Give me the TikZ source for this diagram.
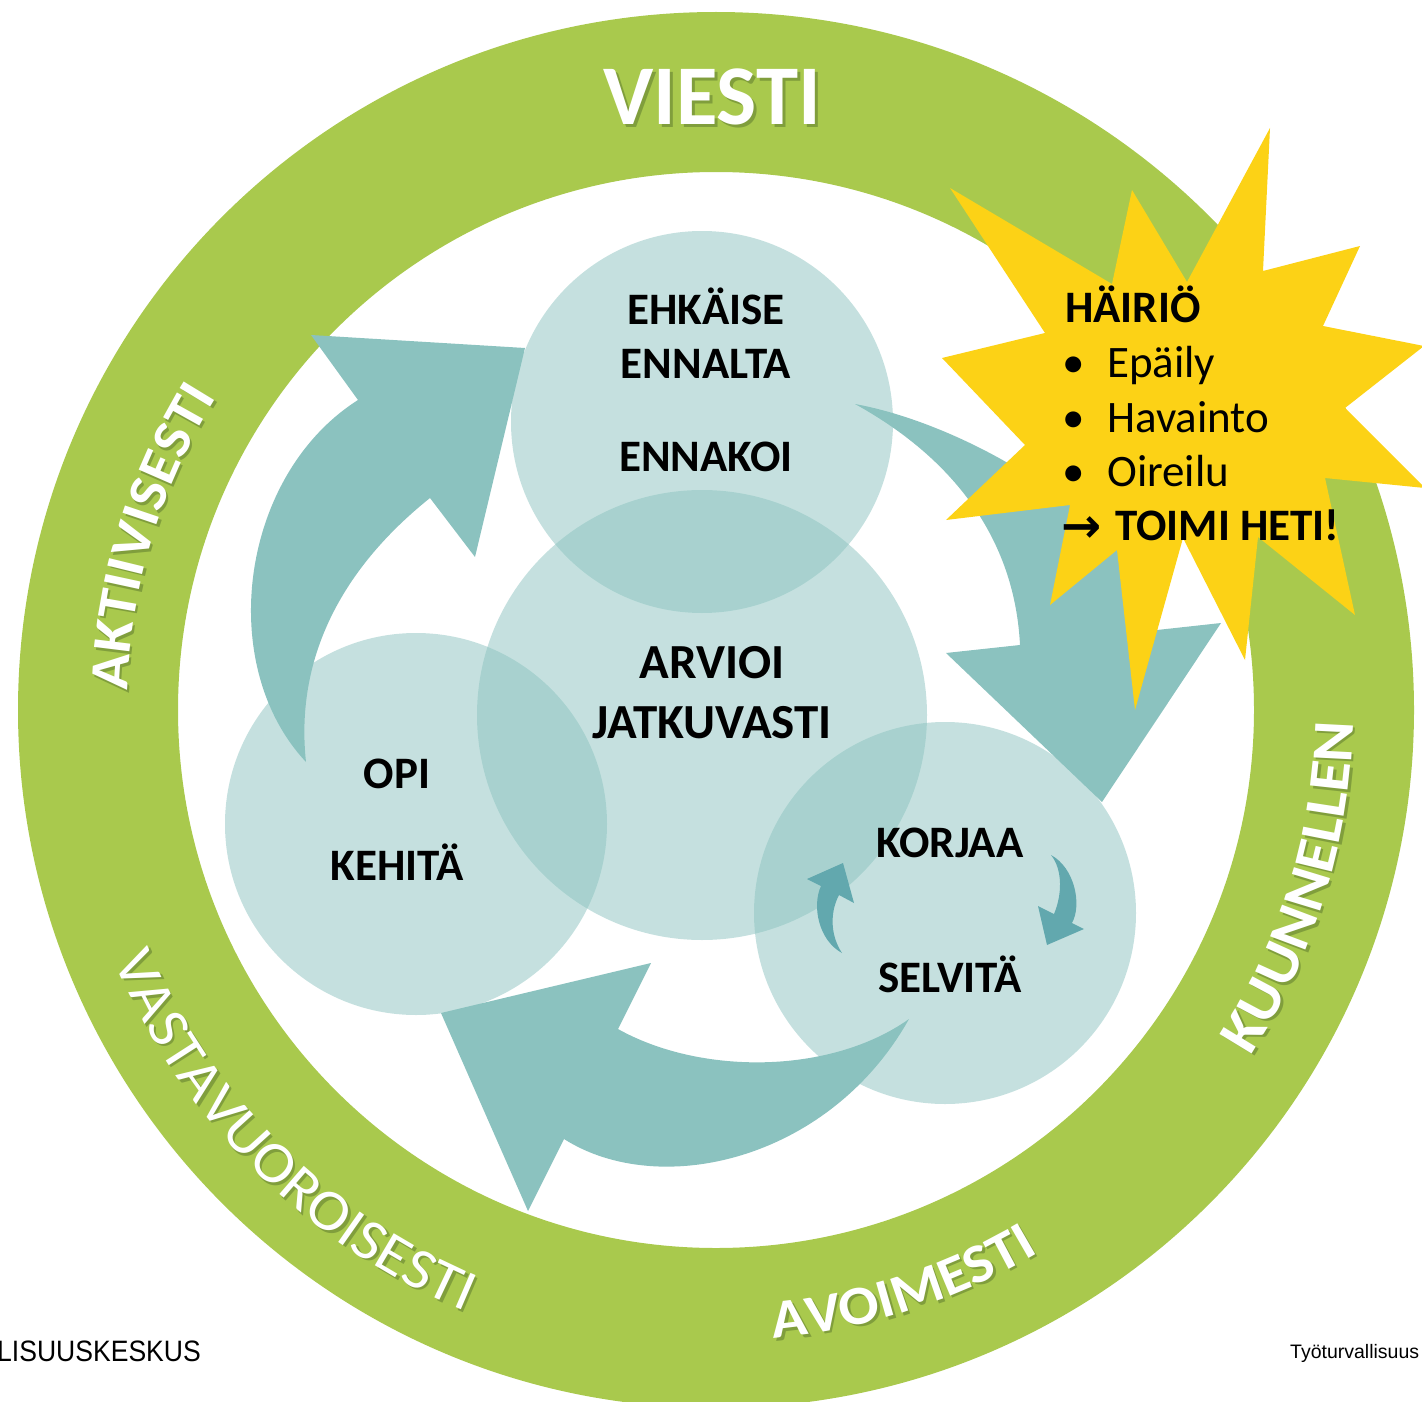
\documentclass[tikz,border=0pt]{standalone}
\usepackage{fontspec}
\setmainfont{Carlito}
\newfontfamily\ringfont[FakeStretch=1.08]{Carlito}
\newfontfamily\footfont{Liberation Sans}
\newfontfamily\footfontN[FakeStretch=0.9]{Liberation Sans}
\newfontfamily\symfont{DejaVu Sans}
\usetikzlibrary{decorations.text}
\definecolor{ringgreen}{RGB}{169,201,77}
\definecolor{ringshadow}{RGB}{128,158,60}
\definecolor{arrowteal}{RGB}{139,194,191}
\definecolor{smallteal}{RGB}{98,168,174}
\definecolor{staryellow}{RGB}{252,210,22}
\newcommand\ringB{\ringfont\bfseries\fontsize{55}{64}\selectfont}
\newcommand\ringBL{\ringfont\bfseries\fontsize{58}{66}\selectfont}
\newcommand\ringR{\ringfont\fontsize{58}{66}\selectfont}
\newcommand\RingText[5]{%
  \path[decorate,decoration={text along path,text align=center,text color=ringshadow,text={|#5|#4}}]
    ([shift={(2.5,2.5)}]C) ++(#2:#1) arc[start angle=#2,end angle=#3,radius=#1];
  \path[decorate,decoration={text along path,text align=center,text color=white,text={|#5|#4}}]
    (C) ++(#2:#1) arc[start angle=#2,end angle=#3,radius=#1];
}
\begin{document}
\begin{tikzpicture}[x=1pt,y=-1pt,
  bigarrow/.style={fill=arrowteal},
  smallarrow/.style={fill=smallteal},
  bubble/.style={fill=arrowteal,fill opacity=0.5},
  cirlabel/.style={font=\bfseries\fontsize{45}{54}\selectfont,text=black,inner sep=0pt,anchor=base},
  starhead/.style={font=\bfseries\fontsize{45}{52}\selectfont,text=black,inner sep=0pt,anchor=base west},
  staritem/.style={font=\fontsize{45}{52}\selectfont,text=black,inner sep=0pt,anchor=base west},
  foot/.style={text=black,inner sep=0pt}]
\useasboundingbox (0,0) rectangle (1422,1402);
\clip (0,0) rectangle (1422,1402);
\coordinate (C) at (716,710);
% green ring
\fill[ringgreen,even odd rule] (C) circle[radius=698] (C) circle[radius=538];
% big curved arrows
\fill[bigarrow] (358,400) .. controls (240,475) and (215,665) .. (306,762)
   .. controls (295,660) and (340,570) .. (430,498) -- (475,557) -- (525,348) -- (311,335) -- cycle;
\fill[bigarrow] (855,404) .. controls (975,426) and (1146,530) .. (1157,630) -- (1221,623)
   -- (1102,802) -- (946,653) -- (1020,645) .. controls (1015,545) and (960,462) .. (855,404) -- cycle;
\fill[bigarrow] (909,1019) .. controls (830,1075) and (700,1075) .. (618,1029) -- (651,963)
   -- (441,1013) -- (528,1211) -- (564,1139) .. controls (660,1200) and (830,1160) .. (909,1019) -- cycle;
% circles
\fill[bubble] (702,422) circle[radius=191];
\fill[bubble] (702,715) circle[radius=225];
\fill[bubble] (416,824) circle[radius=191];
\fill[bubble] (945,913) circle[radius=191];
% small arrows
\fill[smallarrow] (1051,855) .. controls (1075,868) and (1082,905) .. (1072,923) -- (1084,929)
   -- (1047,945) -- (1038,906) -- (1054,914) .. controls (1062,895) and (1063,870) .. (1051,855) -- cycle;
\fill[smallarrow] (842,953) .. controls (818,940) and (812,905) .. (821,886) -- (807,879)
   -- (843,863) -- (854,903) -- (839,895) .. controls (830,912) and (830,935) .. (842,953) -- cycle;
% starburst
\fill[staryellow] (950,188) -- (1112,284) -- (1132,190) -- (1187,282) -- (1270,128) -- (1263,271)
  -- (1360,246) -- (1323,326) -- (1424,346) -- (1345,408) -- (1425,488) -- (1325,478)
  -- (1355,615) -- (1258,537) -- (1245,660) -- (1183,538) -- (1135,710) -- (1117,550)
  -- (1050,605) -- (1070,505) -- (946,520) -- (1025,445) -- (942,358) -- (1045,333) -- cycle;
% ring texts
\node[text=ringshadow,font=\bfseries\fontsize{85}{90}\selectfont,inner sep=0pt] (viestis) at (715,100) {VIESTI};
\node[text=white,font=\bfseries\fontsize{85}{90}\selectfont,inner sep=0pt] (viesti) at (712,97) {VIESTI};
\RingText{589}{157}{237}{AKTIIVISESTI}{\ringB}
\RingText{652}{181}{89}{VASTAVUOROISESTI}{\ringR}
\RingText{631}{103}{41}{AVOIMESTI}{\ringB}
\RingText{637}{49}{-15}{KUUNNELLEN}{\ringBL}
% circle labels
\node[cirlabel] (t1) at (706,324) {EHKÄISE};
\node[cirlabel] (t2) at (706,378) {ENNALTA};
\node[cirlabel] (t3) at (706,471) {ENNAKOI};
\node[cirlabel,font=\bfseries\fontsize{49}{56}\selectfont] (t4) at (712,678) {ARVIOI};
\node[cirlabel,font=\bfseries\fontsize{49}{56}\selectfont] (t5) at (712,738) {JATKUVASTI};
\node[cirlabel] (t6) at (397,788) {OPI};
\node[cirlabel] (t7) at (397,880) {KEHITÄ};
\node[cirlabel] (t8) at (950,857) {KORJAA};
\node[cirlabel] (t9) at (950,992) {SELVITÄ};
% star text
\node[starhead] (h0) at (1065,322) {HÄIRIÖ};
\node[staritem] (b1) at (1062,377) {•};
\node[staritem] (s1) at (1107,377) {Epäily};
\node[staritem] (b2) at (1062,432) {•};
\node[staritem] (s2) at (1107,432) {Havainto};
\node[staritem] (b3) at (1062,486) {•};
\node[staritem] (s3) at (1107,486) {Oireilu};
\node[starhead,font=\symfont\bfseries\fontsize{48}{52}\selectfont] (h1a) at (1061,542) {→};
\node[starhead] (h1) at (1115,540) {TOIMI HETI!};
% footer
\node[foot,anchor=base west,font=\footfontN\fontsize{29.5}{32}\selectfont] (f1) at (-3,1361) {LISUUSKESKUS};
\node[foot,anchor=base west,font=\footfont\fontsize{19.5}{22}\selectfont] (f2) at (1290,1358) {Työturvallisuus};
\end{tikzpicture}
\end{document}
